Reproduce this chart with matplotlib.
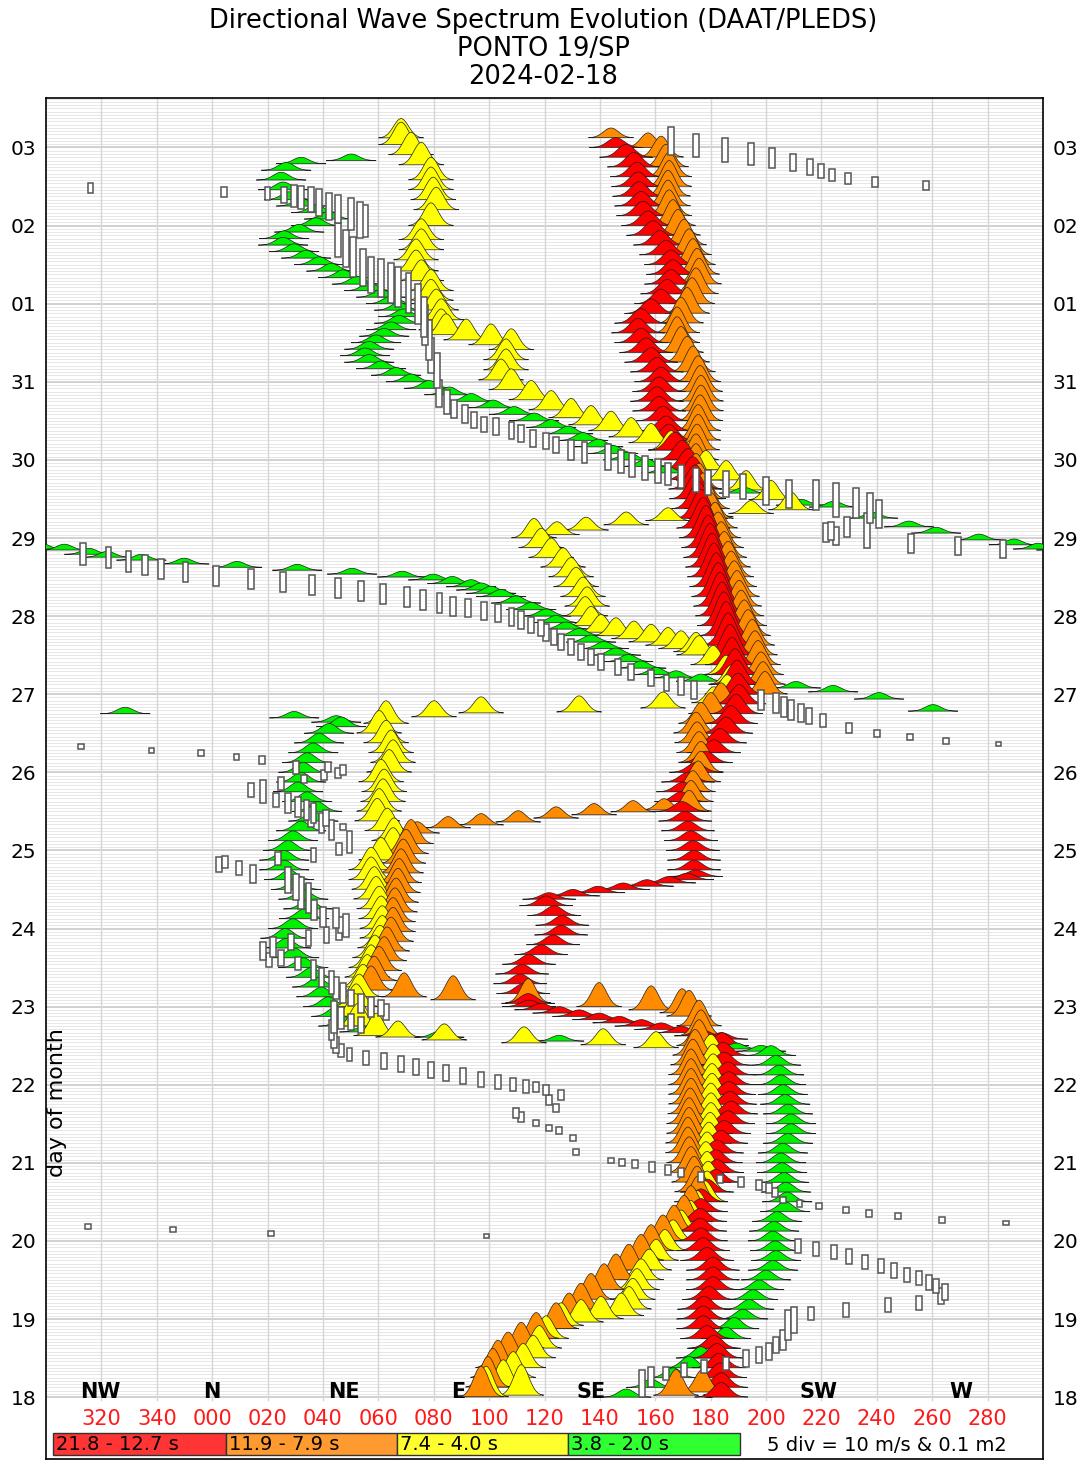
import numpy as np
import matplotlib
matplotlib.use('Agg')
import matplotlib.pyplot as plt
from matplotlib.collections import PolyCollection
from matplotlib.patches import Rectangle

# time in hours since 18th 00Z, direction in degrees (-60 .. 300), amplitude in hours
red_south = [(0, 183.8, 4.5), (3, 183.8, 4.5), (6, 183.4, 4.5), (9, 183.0, 4.5), (12, 182.3, 4.5), (15, 181.2, 4),
             (18, 178.7, 4), (21, 177.3, 4), (24, 177.3, 4), (27, 177.6, 4), (30, 179.4, 4),
             (33, 180.8, 4), (36, 180.8, 4), (39, 180.8, 4), (42, 178.7, 4), (45, 177.3, 4),
             (48, 176.5, 4), (51, 176.2, 4), (54, 176.2, 4), (57, 176.5, 4), (60, 176.5, 4),
             (63, 178.7, 4), (66, 181.9, 4), (69, 182.3, 4), (72, 181.9, 4), (75, 182.3, 4), (78, 183.8, 4),
             (81, 184.9, 4), (84, 186.3, 4), (87, 187.4, 4), (90, 187.0, 4), (93, 186.6, 4), (96, 186.6, 4),
             (99, 186.3, 4), (102, 184.9, 4), (105, 184.5, 4), (108, 184.1, 4)]
red_jump1 = [(110, 183.8, 2), (111, 176.5, 2), (112, 169.3, 2), (113, 162.1, 2), (114, 155.0, 2),
             (115, 147.0, 2), (116, 139.7, 2), (117, 132.5, 2), (118, 125.3, 2), (119, 118.8, 2),
             (120, 114.4, 2)]
red_east = [(121, 114.1, 3), (124, 112.3, 3), (127, 111.2, 3), (130, 111.9, 3), (133, 114.4, 3), (136, 118.8, 3),
            (139, 123.1, 3), (142, 126.0, 3), (145, 126.4, 3), (148, 123.5, 3), (151, 120.6, 3)]
red_jump2 = [(153, 121.7, 2), (154, 130.3, 2), (155, 139.4, 2), (156, 148.4, 2), (157, 157.0, 2),
             (158, 165.0, 2), (159, 171.5, 2), (160, 174.7, 2)]
red_south2 = [(162, 174.0, 3), (165, 174.0, 3), (168, 173.6, 3), (171, 172.9, 3), (174, 171.8, 3), (177, 170.8, 3),
              (180, 169.7, 3), (183, 169.3, 3), (186, 170.0, 3), (189, 171.8, 3), (192, 174.7, 3),
              (195, 178.3, 3.5), (198, 181.2, 4), (201, 183.4, 4.5), (204, 185.6, 5), (207, 187.4, 5.5),
              (210, 189.2, 6), (213, 190.3, 6)]
red_peak = [(216, 189.9, 6.5), (219, 189.5, 7.5), (222, 188.8, 8), (225, 187.7, 8.5), (228, 187.0, 9.5),
            (231, 186.3, 10), (234, 185.6, 10.5), (237, 184.8, 10.5), (240, 184.1, 10.5), (243, 183.4, 10.5),
            (246, 182.7, 10.5), (249, 182.0, 10.5), (252, 181.2, 10.5), (255, 180.5, 10.5), (258, 179.8, 10.5),
            (261, 179.1, 10), (264, 178.3, 10), (267, 177.3, 9.5), (270, 176.5, 9), (273, 175.5, 8.5),
            (276, 174.7, 8), (279, 174.4, 7.5), (282, 173.6, 7), (285, 171.8, 6.5), (288, 169.7, 6),
            (291, 167.1, 5.5), (294, 164.9, 5)]
red_north = [(297, 163.9, 4.5), (300, 162.8, 4.5), (303, 161.4, 4.5), (306, 160.6, 4.5), (309, 161.4, 4.5),
             (312, 162.1, 4.5), (315, 160.6, 4.5), (318, 158.5, 4.5), (321, 156.7, 4.5), (324, 154.9, 4.5),
             (327, 153.8, 4.5), (330, 154.9, 4.5), (333, 158.5, 4.5), (336, 162.1, 4.5), (339, 164.3, 4.5),
             (342, 165.7, 4.5), (345, 166.4, 4.5), (348, 165.7, 4.5), (351, 163.9, 4.5), (354, 161.7, 4.5),
             (357, 159.2, 4.5), (360, 157.4, 4.5), (363, 155.6, 4.5), (366, 154.9, 4.5), (369, 154.2, 4.5),
             (372, 153.8, 4.5), (375, 153.4, 4.5), (378, 152.3, 4.5), (381, 149.5, 4), (384, 145.8, 3)]

orange_top = [(216, 199.6, 7), (219, 198.9, 7), (222, 198.2, 7), (225, 197.1, 7.5), (228, 196.0, 7.5),
              (231, 195.0, 8), (234, 193.5, 8), (237, 192.1, 8), (240, 191.0, 8), (243, 190.3, 8),
              (246, 189.5, 8), (249, 188.5, 8), (252, 187.4, 8), (255, 186.3, 8), (258, 184.9, 8),
              (261, 183.8, 8), (264, 182.7, 8), (267, 181.6, 8), (270, 180.1, 8), (273, 178.7, 8),
              (276, 177.3, 8), (279, 175.8, 8), (282, 174.7, 8), (285, 174.7, 8), (288, 174.7, 8),
              (291, 175.1, 8), (294, 175.5, 8), (297, 175.5, 8), (300, 176.2, 8), (303, 176.5, 8),
              (306, 176.5, 8), (309, 176.2, 8), (312, 175.5, 8), (315, 173.6, 8), (318, 171.5, 8),
              (321, 169.3, 8), (324, 167.9, 8), (327, 167.9, 8), (330, 169.3, 8), (333, 171.5, 8),
              (336, 173.3, 8), (339, 174.7, 8), (342, 175.8, 8), (345, 175.1, 8), (348, 173.6, 8),
              (351, 172.2, 8), (354, 170.4, 8), (357, 168.2, 8), (360, 166.4, 8), (363, 165.0, 8),
              (366, 164.6, 8), (369, 164.6, 8), (372, 165.0, 8), (375, 165.0, 7.5), (378, 163.9, 7),
              (381, 162.1, 6.5), (384, 157.4, 4.5), (387, 144.0, 3)]
orange_south2 = [(180, 172.2, 6.5), (183, 172.9, 6.5), (186, 173.6, 6.5), (189, 175.5, 6.5), (192, 176.5, 6.5),
                 (195, 176.5, 6.5), (198, 175.8, 6.5), (201, 175.1, 6.5), (204, 174.7, 6.5), (207, 176.5, 6.5),
                 (210, 180.1, 6.5), (213, 183.8, 6.5)]
orange_jump1 = [(173.3, 74.0, 3.5), (174.9, 85.2, 3.5), (175.8, 97.1, 3.5), (176.7, 110.5, 3.5),
                (177.9, 124.2, 3.5), (178.9, 137.9, 3.5), (179.8, 152.0, 3.5), (180.4, 163.2, 3.5)]
orange_east = [(125, 57.4, 7.5), (128, 58.5, 7.5), (131, 60.3, 7.5), (134, 62.1, 7.5), (137, 63.2, 7.5),
               (140, 64.6, 7.5), (143, 65.3, 7.5), (146, 65.3, 7.5), (149, 66.0, 7.5), (152, 66.4, 7.5),
               (155, 67.1, 7.5), (158, 67.5, 7.5), (161, 68.2, 7.5), (164, 69.0, 7.5), (167, 70.0, 7.5),
               (170, 71.8, 7.5)]
orange_jump2 = [(118.0, 169.7, 7.5), (118.9, 158.5, 7.5), (119.9, 139.7, 7.5), (121.1, 114.1, 7.5),
                (122.0, 87.0, 7.5), (122.9, 69.3, 7.5)]
orange_south = [(0, 97.1, 9.5), (3, 99.6, 9.5), (6, 101.4, 9), (9, 103.2, 8.5), (12, 106.9, 8), (15, 111.6, 8),
                (18, 117.0, 8), (21, 124.2, 8), (24, 128.9, 8), (27, 133.2, 8), (30, 136.8, 8),
                (33, 141.5, 8), (36, 145.8, 8), (39, 150.5, 8), (42, 154.9, 8), (45, 158.5, 8),
                (48, 162.8, 8), (51, 166.8, 8), (54, 170.4, 8), (57, 172.9, 8), (60, 175.5, 8),
                (63, 175.1, 8), (66, 174.0, 8), (69, 172.9, 8), (72, 172.2, 8), (75, 171.8, 8),
                (78, 171.8, 8), (81, 172.2, 8), (84, 172.2, 8), (87, 172.6, 8), (90, 172.9, 8),
                (93, 172.9, 8), (96, 172.9, 8), (99, 172.9, 8), (102, 173.6, 8), (105, 174.4, 8),
                (108, 175.8, 8), (111, 176.5, 8), (114, 175.8, 8), (117, 172.2, 8)]
orange_bottom = [(0.5, 167.5, 8), (1.5, 177.0, 7)]

yellow_top = [(272.6, 209.0, 5.5), (275.7, 201.8, 6), (278.7, 192.8, 6), (281.8, 185.6, 6), (284.9, 178.3, 6),
              (288, 172.9, 6), (291, 165.7, 6), (293.2, 158.5, 6), (295, 151.3, 6), (297, 144.0, 6),
              (298.7, 136.8, 6), (300.9, 129.6, 6), (303.3, 122.4, 6), (306.4, 115.2, 6), (309.5, 108.0, 6.5),
              (312.5, 104.3, 6.5), (315.6, 106.1, 6.5), (318.7, 106.1, 6.5), (321.8, 108.0, 6.5),
              (323.3, 100.7, 6.5), (324.8, 91.7, 6.5), (326.4, 84.5, 6.5), (327.9, 82.7, 6.5), (331, 82.7, 6.5),
              (334, 80.9, 6.5), (337, 79.0, 6.5), (340, 79.0, 6.5), (343, 75.5, 6.5), (346, 73.6, 6.5),
              (349.4, 73.6, 6.5), (352.5, 75.5, 6.5), (355.6, 75.5, 6.5), (360, 79.0, 7), (364.8, 80.9, 7),
              (367.9, 79.8, 7), (371, 79.0, 7), (374, 79.0, 7), (378.6, 75.5, 7), (381.7, 71.8, 7),
              (384.8, 68.2, 7), (386.9, 68.2, 6)]
yellow_jump1 = [(265, 124.5, 4), (266.4, 135.0, 4), (268, 149.5, 4), (269.3, 164.6, 4), (270.5, 180.0, 4),
                (271.5, 194.6, 4)]
yellow_mid = [(216, 186.0, 6), (219, 187.4, 6), (222, 185.6, 6), (225, 180.9, 6), (228, 175.8, 6), (229, 174.7, 6),
              (230, 169.3, 5.5), (231, 164.6, 5.5), (232, 158.5, 5.5), (233, 152.3, 5.5), (234, 145.8, 5.5),
              (235, 140.4, 5.5), (237, 136.8, 6), (240, 134.7, 6), (243, 135.4, 6), (246, 133.9, 6),
              (249, 131.4, 6), (252, 129.6, 6), (255, 126.7, 6), (258, 122.4, 6), (261, 118.8, 6), (264, 116.2, 6)]
yellow_jump2 = [(209, 80.1, 5), (210.2, 97.1, 5), (210.5, 132.5, 5), (211.7, 162.8, 5), (213.3, 181.2, 5)]
yellow_east = [(111, 59.2, 7), (114, 52.7, 7), (117, 51.6, 7), (120, 52.0, 7), (123, 53.1, 7), (126, 54.5, 7),
               (129, 56.0, 7), (132, 57.4, 7), (135, 58.8, 7), (138, 60.6, 7), (141, 61.4, 7), (144, 61.4, 7),
               (147, 61.0, 7), (150, 60.3, 7), (153, 59.2, 7), (156, 58.5, 7), (159, 57.4, 7), (162, 57.4, 7),
               (165, 61.0, 7), (168, 65.3, 7), (171, 65.7, 7), (174, 63.2, 7), (177, 59.6, 7), (180, 60.3, 7),
               (183, 61.7, 7), (186, 62.1, 7), (189, 61.0, 7), (192, 63.9, 7), (195, 65.3, 7), (198, 64.6, 7),
               (201, 62.8, 7), (204, 60.3, 7), (207, 62.8, 7)]
yellow_jump3 = [(107.3, 160.3, 5), (108.2, 141.2, 5), (108.8, 112.6, 5), (109.7, 83.8, 5), (110.6, 67.1, 5)]
yellow_south = [(0, 98.9, 9.5), (0.5, 111.6, 9.5), (3, 105.1, 8.5), (6, 108.7, 8), (9, 112.3, 7.5), (12, 115.9, 7),
                (15, 118.1, 7), (18, 120.6, 7), (21, 124.2, 7), (22, 126.0, 7), (23, 133.2, 7),
                (24, 140.4, 7), (25, 147.7, 7), (27, 150.5, 7), (30, 151.9, 6.5), (33, 153.4, 6.5),
                (36, 154.9, 6.5), (39, 157.8, 6.5), (42, 160.3, 6.5), (45, 163.5, 6.5), (48, 166.4, 6.5),
                (51, 169.3, 6.5), (54, 172.6, 6.5), (57, 175.1, 6.5), (60, 178.0, 6.5), (63, 178.7, 6.5),
                (66, 179.1, 6.5), (69, 178.7, 6.5), (72, 178.3, 6.5), (75, 178.7, 6.5), (78, 179.4, 6.5),
                (81, 179.8, 6.5), (84, 180.1, 6.5), (87, 180.1, 6.5), (90, 180.1, 6.5), (93, 180.5, 6.5),
                (96, 180.5, 6.5), (99, 180.9, 6.5), (102, 180.9, 6.5), (105, 180.1, 6.5)]

green_top = [(380, 50.2, 2), (379, 32.1, 2), (377, 26.7, 2.4), (374, 24.9, 2.4), (371, 25.6, 2.4),
             (368, 27.8, 2.4), (366, 32.1, 2.4), (364, 37.5, 2.4), (362, 42.2, 2.4), (360, 37.5, 2.4),
             (358, 31.4, 2.4), (356, 26.0, 2.4), (354, 25.6, 2.4), (352, 29.6, 2.4), (350, 33.9, 2.4),
             (348, 38.6, 2.4), (346, 43.0, 2.4), (344, 47.3, 2.4), (342, 52.3, 2.4), (340, 56.7, 2.4),
             (338, 61.0, 2.4), (336, 64.6, 2.4), (334, 67.5, 2.4), (332, 69.0, 2.4), (330, 67.5, 2.4),
             (328, 64.6, 2.4), (326, 62.1, 2.4), (324, 59.2, 2.4), (322, 56.7, 2.4), (320, 55.2, 2.4),
             (318, 56.7, 2.4), (316, 61.0, 2.4), (314, 66.4, 2.4), (312, 71.8, 2.4), (310, 78.3, 2.4),
             (308, 85.6, 2.4), (306, 93.5, 2.4), (304, 101.4, 2.4), (302, 109.0, 2.4), (300, 116.2, 2.4),
             (298, 122.4, 2.4), (296, 128.5, 2.4), (294, 133.9, 2.4), (292, 139.4, 2.4), (290, 144.8, 2.4),
             (288, 150.2, 2.4), (286, 156.7, 2.4), (284, 163.9, 2.2), (281.8, 176.5, 2)]
green_wrap = [(277.8, 192.0, 1.8), (274.1, 212.6, 1.8), (273.5, 224.5, 1.8), (270.1, 238.6, 1.8),
              (267.4, 251.6, 1.8), (265.5, 261.4, 1.8), (263.4, 276.9, 1.8), (261.9, 289.5, 1.8),
              (260.6, 298.2, 1.8), (260.3, -53.4, 1.8), (259, -44.4, 1.8), (258.1, -37.9, 1.8),
              (257.2, -25.6, 1.8), (256, -10.1, 1.8), (255, 9.0, 1.8), (254.1, 30.7, 1.8), (252.9, 50.5, 1.8),
              (252, 68.6, 1.8), (251.1, 79.8, 1.8)]
green_diag = [(250, 86.7, 2.2), (249, 93.5, 2.2), (248, 97.1, 2.2), (247, 100.7, 2.2), (246, 104.3, 2.2),
              (244, 109.7, 2.2), (242, 115.2, 2.2), (240, 120.6, 2.2), (238, 124.2, 2.2), (236, 127.8, 2.2),
              (234, 132.5, 2.2), (232, 136.8, 2.2), (230, 141.5, 2.2), (228, 145.8, 2.2), (226, 150.2, 2.2),
              (224, 154.9, 2.2), (222, 160.3, 2.2), (221, 167.5, 2.2), (220, 176.5, 2.2), (219, 191.0, 2.2),
              (217.9, 210.8, 2), (216.7, 224.2, 2), (214.5, 240.8, 2), (210.8, 260.3, 2),
              (210, -31.4, 2), (208.7, 29.6, 2), (207.4, 44.8, 2)]
green_west = [(114, 47.3, 3), (117, 44.8, 3), (120, 41.9, 3), (123, 39.4, 3), (126, 37.9, 3), (129, 35.7, 3),
              (132, 32.9, 3), (135, 29.6, 3), (138, 26.7, 3), (141, 26.4, 3), (144, 29.2, 3), (147, 33.2, 3),
              (150, 34.7, 3), (153, 32.9, 3), (156, 30.3, 3), (159, 27.8, 3), (162, 26.0, 3), (165, 26.0, 3),
              (168, 27.4, 3), (171, 29.2, 3), (174, 32.1, 3), (177, 36.5, 3), (180, 37.9, 3), (183, 34.3, 3),
              (186, 31.0, 3), (189, 32.1, 3), (192, 32.9, 3), (195, 34.3, 3), (198, 36.5, 3), (201, 38.6, 3),
              (204, 42.2, 3), (206, 46.6, 3)]
green_jump = [(112.2, 54.9, 1.8), (110.6, 82.0, 1.8), (109.4, 125.3, 1.8), (107, 189.2, 1.8), (106.3, 198.2, 1.8)]
green_south = [(105, 201.8, 3), (102, 203.6, 3), (99, 204.7, 3), (96, 205.4, 3), (93, 206.1, 3), (90, 206.9, 3),
               (87, 207.9, 3), (84, 209.0, 3), (81, 209.0, 3), (78, 207.9, 3), (75, 206.1, 3), (72, 205.4, 3),
               (69, 205.8, 3), (66, 206.5, 3), (63, 207.2, 3), (60, 207.6, 3), (57, 206.9, 3), (54, 204.0, 3),
               (51, 202.9, 3), (48, 202.5, 3), (45, 203.3, 3), (42, 203.6, 3), (39, 202.5, 3), (36, 200.0, 3),
               (33, 197.5, 3), (30, 195.3, 3), (27, 193.9, 3), (24, 191.7, 3), (21, 188.5, 3.5), (18, 185.6, 3.5),
               (15, 180.9, 3.5), (12, 176.5, 3.5), (9, 172.2, 3.5), (6, 166.4, 3), (3, 158.5, 2.5), (0, 149.5, 2.5)]

# wind bars: (hour, direction, length in hours)
wind = [(4.1, 155.2, 8.3), (6.1, 158.5, 6.1), (7.2, 163.9, 4.0), (8.3, 170.4, 4.3), (9.4, 177.6, 4.0),
        (10.3, 185.6, 4.0), (11.8, 192.8, 5.2), (12.9, 197.5, 4.9), (14.0, 201.1, 5.2), (16.0, 203.6, 4.9),
        (17.5, 206.1, 6.1), (22.1, 208.0, 9.2), (23.7, 210.1, 8.0), (25.7, 216.2, 4.0), (26.7, 228.9, 4.3),
        (28.3, 244.0, 4.5), (28.9, 255.2, 4.3), (31.0, 263.2, 5.0), (32.3, 264.6, 5.0), (34.1, 261.4, 4.5),
        (35.3, 258.8, 4.5), (36.6, 255.2, 4.5), (37.5, 250.9, 4.5), (39.0, 246.2, 4.5), (40.3, 241.5, 4.5),
        (41.5, 235.7, 4.5), (43.3, 230.0, 4.5), (44.6, 224.5, 4.5), (45.5, 218.0, 4.5), (46.4, 211.6, 4.5),
        (49.5, 99.0, 1.5), (50.4, 21.3, 1.5), (51.6, -14.1, 1.5), (52.5, -44.8, 1.5), (53.5, 286.6, 1.5),
        (54.4, 263.5, 1.8), (55.6, 247.7, 1.8), (56.5, 237.2, 2.0), (57.5, 228.9, 2.0), (58.7, 219.1, 2.0),
        (59.6, 212.0, 2.2), (60.5, 206.1, 1.8), (63.0, 203.3, 2.8), (64.2, 201.1, 3.0), (65.1, 197.5, 3.0),
        (66.0, 191.0, 3.0), (67.0, 183.4, 2.5), (67.6, 176.5, 3.0), (69.1, 169.3, 2.8), (69.8, 164.6, 3.0),
        (70.7, 158.9, 2.8), (71.6, 152.7, 2.5), (72.2, 148.0, 2.2), (72.8, 144.0, 1.5),
        (75.3, 131.4, 2.0), (79.6, 130.3, 2.0), (82.0, 125.3, 2.0), (82.7, 121.7, 2.0), (84.2, 117.0, 2.0),
        (86.0, 111.6, 3.0), (87.3, 109.7, 3.0), (88.8, 124.2, 2.5), (91.3, 121.7, 3.0), (92.8, 126.0, 3.0),
        (94.3, 120.6, 3.0), (95.3, 117.0, 3.0), (95.6, 113.4, 4.0), (96.2, 108.7, 4.0), (96.8, 103.2, 4.5),
        (97.7, 97.1, 4.5), (98.6, 90.6, 5.0), (99.6, 84.5, 5.0), (100.5, 79.0, 5.0), (101.4, 73.6, 5.0),
        (102.3, 68.2, 5.0), (103.3, 62.1, 5.0), (104.2, 55.6, 4.5), (105.4, 49.5, 4.0), (106.6, 46.6, 4.0),
        (108.2, 44.8, 5.0), (110.3, 44.0, 6.0), (112.8, 43.0, 6.0),
        (114.3, 53.8, 5), (115.2, 50.2, 5), (116.5, 46.6, 7), (116.8, 44.0, 10), (118.3, 62.8, 5),
        (119.5, 61.0, 5), (119.9, 57.4, 6), (121.0, 53.8, 6), (122.6, 50.2, 5), (124.2, 47.3, 6),
        (125.7, 44.8, 7), (127.5, 43.0, 7), (129.0, 39.4, 6), (131.2, 36.5, 6), (133.4, 31.0, 4),
        (134.3, 20.6, 4.3), (135.0, 24.9, 5), (137.0, 18.4, 5.5), (138.3, 22.0, 6), (139.8, 28.5, 5),
        (141.0, 34.7, 5), (142.0, 41.2, 5), (142.9, 45.8, 5), (145.0, 46.6, 5), (145.0, 48.4, 7),
        (147.2, 44.8, 6), (147.5, 40.0, 6), (149.7, 36.8, 6), (153.4, 34.7, 9), (154.9, 32.1, 10),
        (156.7, 30.3, 8), (158.9, 27.4, 8), (160.7, 14.8, 5.5), (162.6, 9.7, 4.3), (163.8, 2.5, 4.6),
        (164.4, 4.7, 3.7), (165.6, 23.8, 4), (166.6, 36.5, 4.3), (168.4, 45.8, 3.7), (170.6, 49.5, 6.5),
        (174.2, 43.0, 6), (175.2, 47.3, 2), (176.4, 39.4, 6), (177.9, 41.0, 5), (178.2, 35.7, 6),
        (179.5, 36.5, 6), (180.4, 34.0, 6), (181.3, 31.0, 6), (182.5, 27.4, 6), (183.5, 23.1, 4.3),
        (186.2, 18.4, 7), (186.5, 14.0, 4.3), (188.7, 24.9, 4), (190.0, 33.2, 2.5), (191.1, 40.4, 3),
        (191.8, 45.5, 3), (192.7, 47.3, 3), (193.6, 41.9, 3), (193.6, 30.3, 4), (195.8, 18.0, 2.5),
        (196.7, 8.7, 2), (197.9, -4.0, 2), (198.8, -22.0, 1.5), (199.8, -47.3, 1.5),
        (200.7, 284.0, 1.5), (201.6, 265.0, 1.8), (202.8, 252.0, 2.0), (204.0, 240.0, 2.2), (205.6, 230.0, 3.0),
        (208.0, 220.6, 4.0), (209.3, 215.5, 5.0), (210.2, 212.6, 5.5), (211.1, 209.0, 6.0), (212.0, 206.5, 6.0),
        (213.3, 203.6, 6.0), (214.3, 198.2, 6.0),
        (217.3, 174.0, 5.5), (218.5, 169.3, 5.5), (219.4, 164.0, 5), (221.0, 158.5, 5), (222.8, 151.3, 5),
        (224.3, 146.6, 5), (225.9, 140.4, 5), (227.4, 136.8, 5), (229.0, 133.2, 5), (230.5, 129.6, 5),
        (232.0, 126.0, 5), (233.6, 123.5, 5), (235.0, 120.6, 5), (236.3, 118.8, 5), (237.3, 115.2, 5),
        (238.8, 111.6, 5.5), (239.7, 108.0, 5.5), (241.0, 103.2, 5.5), (241.6, 98.2, 5.5), (242.5, 92.4, 5.5),
        (243.0, 87.0, 6), (244.0, 82.0, 6), (245.0, 76.2, 6), (245.8, 70.4, 6), (246.8, 61.7, 6),
        (247.7, 53.8, 6), (248.6, 45.5, 6), (249.5, 36.1, 6), (250.5, 25.6, 6), (251.4, 14.0, 6),
        (252.3, 1.4, 6), (253.5, -9.7, 6), (254.5, -18.4, 6), (255.7, -24.2, 6), (256.9, -30.3, 6.5),
        (258.1, -37.5, 6.5), (259.1, -46.6, 6.5),
        (260.6, 285.6, 5.5), (261.5, 269.3, 5.5), (262.4, 252.3, 5.8), (264.6, 225.3, 5.5), (265.8, 221.7, 5.8),
        (266.1, 223.5, 5.5), (266.4, 236.5, 10.8), (267.4, 229.2, 6.1), (271.4, 240.8, 8.6), (273.2, 237.5, 9.2),
        (274.7, 232.5, 9.2), (275.7, 225.3, 10.4), (277.2, 218.0, 9.2), (277.5, 208.3, 8.6), (278.4, 200.0, 8.6),
        (279.7, 191.7, 7.7), (280.6, 185.6, 7.7), (281.2, 179.0, 7.7), (281.8, 174.7, 7.4), (283.0, 169.3, 7.1),
        (283.6, 164.6, 6.8), (284.6, 161.0, 7.1), (285.5, 156.3, 7.1), (286.4, 151.6, 7.4), (287.6, 147.7, 7.1),
        (288.9, 143.0, 7.7), (290.4, 134.4, 6.5), (291.0, 129.6, 6.1), (292.6, 124.2, 4.9), (293.8, 120.6, 5.2),
        (294.7, 115.9, 5.2), (296.2, 111.6, 5.2), (296.9, 108.0, 5.2), (298.4, 102.5, 5.2), (299.0, 98.2, 4.6),
        (300.2, 94.6, 4.9), (302.0, 91.3, 5.5), (303.6, 87.4, 5.5), (305.8, 84.8, 7.1), (308.5, 81.9, 8.3),
        (315.6, 81.2, 10.8), (320.0, 79.0, 10.8), (324.8, 78.3, 12.3), (329.4, 76.9, 12.3), (332.0, 76.5, 12.3),
        (336.0, 74.4, 12.3), (339.3, 70.8, 12.3), (341.1, 67.1, 12.3), (342.3, 64.6, 12.3), (343.9, 61.0, 11.4),
        (344.8, 57.4, 11.1), (347.0, 54.5, 11.4), (350.3, 50.9, 12.3), (353.1, 48.4, 11.4), (355.6, 45.5, 10.4),
        (361.4, 55.2, 9.8), (361.7, 53.4, 11.1), (363.5, 50.2, 9.8), (365.1, 45.5, 8.6), (366.0, 42.2, 8.3),
        (367.0, 38.6, 8.3), (367.9, 35.7, 7.7), (368.5, 32.1, 7.1), (369.1, 29.6, 6.8), (369.4, 26.0, 4.9),
        (370.0, 19.9, 4.0), (370.3, 4.3, 3.1), (371.5, -44.0, 3.1),
        (372.2, 257.8, 2.8), (373.4, 239.4, 3.1), (374.6, 229.6, 3.4), (375.5, 223.8, 3.7), (376.8, 219.9, 4.3),
        (378.0, 215.9, 4.9), (379.3, 209.7, 5.2), (380.8, 202.2, 6.1), (382.0, 194.6, 6.8), (383.2, 185.2, 7.4),
        (384.5, 174.7, 7.1), (386.0, 165.7, 8.6)]

day_ticks = [0, 24, 48, 72, 96, 120, 144, 168, 192, 216, 240, 264, 288, 312, 336, 360, 384]
day_labels = ['18', '19', '20', '21', '22', '23', '24', '25', '26', '27', '28', '29', '30', '31', '01', '02', '03']
dir_ticks = [-40, -20, 0, 20, 40, 60, 80, 100, 120, 140, 160, 180, 200, 220, 240, 260, 280]
dir_labels = ['320', '340', '000', '020', '040', '060', '080', '100', '120', '140', '160', '180', '200',
              '220', '240', '260', '280']
cardinals = ['NW', 'N', 'NE', 'E', 'SE', 'S', 'SW', 'W']
cardinal_dirs = [-40.4, 0.0, 47.6, 88.8, 136.8, 179.4, 218.8, 270.4]
bands = ['21.8 - 12.7 s', '11.9 - 7.9 s', '7.4 - 4.0 s', '3.8 - 2.0 s']

RED, ORANGE, YELLOW, GREEN = '#ff0000', '#ff8c00', '#ffff00', '#00f000'
band_colors = ['#ff3535', '#ff9a30', '#ffff30', '#30ff30']

# colour, gaussian sigma (deg), half-span (sigmas), draw order, tracks
groups = [
    (GREEN, 2.8, 3.2, 0, [green_top, green_wrap, green_diag, green_west, green_jump, green_south]),
    (YELLOW, 2.7, 3.0, 1, [yellow_top, yellow_jump1, yellow_mid, yellow_jump2, yellow_east, yellow_jump3,
                           yellow_south]),
    (ORANGE, 2.7, 3.0, 2, [orange_top, orange_south2, orange_jump1, orange_east, orange_jump2, orange_south,
                           orange_bottom]),
    (RED, 3.0, 3.2, 3, [red_south, red_jump1, red_east, red_jump2, red_south2, red_peak, red_north]),
]

fig = plt.figure(figsize=(10.86, 14.61), dpi=100)
ax = fig.add_axes([0.0424, 0.0014, 0.918, 0.9315])
ax.set_xlim(-60, 300)
ax.set_ylim(-19.0, 399.2)

# background grid
for hh in range(0, 400):
    ax.axhline(hh, color='#e3e3e3', lw=0.6, zorder=0)
for hh in day_ticks:
    ax.axhline(hh, color='#cfcfcf', lw=1.3, zorder=0)
for d in dir_ticks:
    ax.plot([d, d], [-1, 399.2], color='#d6d6d6', lw=1.0, zorder=0)

for name, d in zip(cardinals, cardinal_dirs):
    ax.text(d, 1.6, name, ha='center', va='center', fontsize=15, fontweight='bold', zorder=1)

# spectral peaks as little bells, drawn from latest to earliest
items = []
for color, s, span, order, tracks in groups:
    u = np.linspace(-span, span, 31)
    for tr in tracks:
        for hh, d, a in tr:
            for dd in (d - 360, d, d + 360):
                if dd + span * s < -60 or dd - span * s > 300:
                    continue
                poly = np.column_stack([dd + s * u, hh + a * np.exp(-0.5 * u * u)])
                items.append((-hh, order, poly, color))
items.sort(key=lambda t: (t[0], t[1]))
pc = PolyCollection([t[2] for t in items], facecolors=[t[3] for t in items],
                    edgecolors='#1e1e1e', linewidths=0.5, zorder=3)
ax.add_collection(pc)

# wind bars
for hh, d, ln in wind:
    ax.add_patch(Rectangle((d - 1.0, hh - ln / 2), 2.0, ln, facecolor='white',
                           edgecolor='#555555', lw=1.1, zorder=5))

ax.set_yticks(day_ticks)
ax.set_yticklabels(day_labels, fontsize=14.5)
ax.tick_params(axis='y', length=0, pad=7, right=True, labelright=True)
ax.set_xticks([])

for d, lab in zip(dir_ticks, dir_labels):
    ax.text(d, -6.6, lab, ha='center', va='center', fontsize=15, color='#ff1a1a', zorder=6)

edges = [-57.5, 5.1, 66.8, 128.5, 190.6]
for i, lab in enumerate(bands):
    ax.add_patch(Rectangle((edges[i], -17.8), edges[i + 1] - edges[i], 6.7, facecolor=band_colors[i],
                           edgecolor='#333333', lw=1.0, zorder=6))
    ax.text(edges[i] + 1.0, -14.45, lab, ha='left', va='center', fontsize=14, zorder=7)
ax.text(243.7, -15.0, '5 div = 10 m/s & 0.1 m2', ha='center', va='center', fontsize=14, zorder=7)

for sp in ax.spines.values():
    sp.set_linewidth(1.2)

fig.text(0.0525, 0.245, 'day of month', rotation=90, ha='center', va='center', fontsize=16)
fig.text(0.5, 0.9856, 'Directional Wave Spectrum Evolution (DAAT/PLEDS)', ha='center', va='center', fontsize=18.5)
fig.text(0.5, 0.9665, 'PONTO 19/SP', ha='center', va='center', fontsize=18.5)
fig.text(0.5, 0.9473, '2024-02-18', ha='center', va='center', fontsize=18.5)

fig.savefig('out.png', dpi=100)
